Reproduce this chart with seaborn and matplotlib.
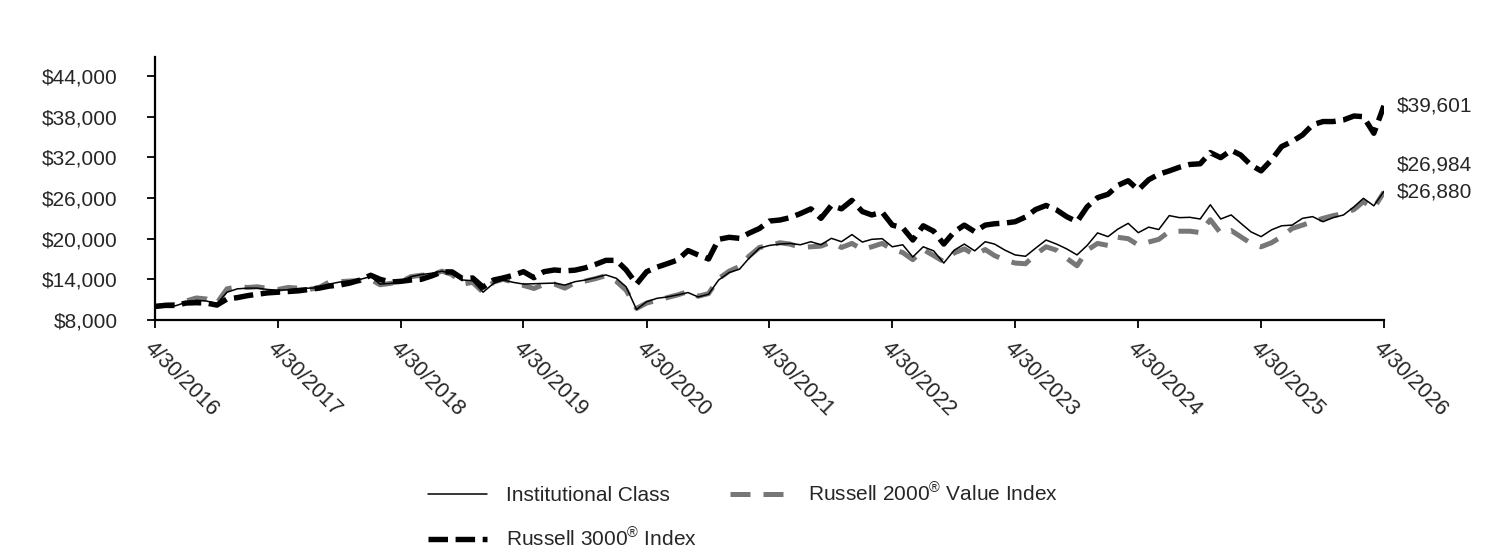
import numpy as np
import pandas as pd
import seaborn as sns
import matplotlib.pyplot as plt
from matplotlib.ticker import StrMethodFormatter
from matplotlib.lines import Line2D

sns.set_style('white')
plt.rcParams['font.family'] = ['Liberation Sans', 'DejaVu Sans']
plt.rcParams['mathtext.fontset'] = 'custom'
plt.rcParams['mathtext.rm'] = 'Liberation Sans'
plt.rcParams['mathtext.it'] = 'Liberation Sans:italic'
plt.rcParams['mathtext.bf'] = 'Liberation Sans:bold'

# month-end values of a $10,000 investment, 4/30/2016 - 4/30/2026
inst_class = [10000, 10150, 10100, 10600, 10900, 10800, 10400, 12100, 12600, 12700,
              12700, 12500, 12400, 12450, 12650, 12700, 12750, 13300, 13600, 13800,
              14000, 14400, 13300, 13400, 13650, 14400, 14700, 14900, 15200, 14800,
              13900, 13800, 12100, 13400, 13900, 13550, 13300, 13350, 13400, 13450,
              13150, 13650, 13900, 14250, 14650, 14150, 12900, 9550, 10700, 11200,
              11400, 11700, 12050, 11400, 11800, 13900, 15000, 15500, 17100, 18600,
              19000, 19200, 19300, 19100, 19550, 19100, 20050, 19550, 20600, 19500,
              19900, 20000, 18800, 19100, 17300, 18800, 18200, 16400, 18300, 19200,
              18200, 19550, 19200, 18300, 17600, 17400, 18600, 19800, 19200, 18500,
              17600, 19000, 20850, 20300, 21400, 22260, 20880, 21700, 21350, 23400,
              23100, 23150, 22900, 25000, 22900, 23500, 22300, 21000, 20300, 21300,
              21900, 22000, 23000, 23250, 22500, 23100, 23500, 24700, 25950, 24850,
              26984]

russell_3000 = [10000, 10150, 10150, 10500, 10550, 10500, 10200, 11100, 11300, 11600,
                11800, 12000, 12100, 12200, 12300, 12500, 12700, 13000, 13150, 13450,
                13900, 14600, 14000, 13600, 13700, 13900, 14000, 14500, 15100, 15100,
                14100, 14200, 12850, 13900, 14200, 14600, 15130, 14240, 15130, 15380,
                15250, 15350, 15700, 16200, 16800, 16800, 15400, 13300, 15130, 15800,
                16300, 16850, 18250, 17600, 17000, 19900, 20200, 20050, 20800, 21500,
                22600, 22750, 23100, 23700, 24400, 23000, 24900, 24400, 25650, 24000,
                23500, 23900, 22000, 21600, 19800, 21900, 21100, 19200, 21000, 22000,
                21030, 22000, 22200, 22300, 22500, 23200, 24300, 24900, 24250, 23250,
                22500, 24700, 26050, 26550, 27850, 28550, 27190, 28700, 29500, 30000,
                30550, 30950, 31050, 32700, 31950, 33050, 32350, 30850, 30000, 31620,
                33590, 34330, 35300, 36800, 37280, 37280, 37520, 38100, 38000, 35550,
                39601]

russell_2000_value = [10000, 10200, 10300, 10800, 11250, 11100, 10500, 12600, 12900, 12800,
                      12900, 12650, 12500, 12800, 12700, 12500, 12800, 13600, 13650, 13750,
                      13800, 14000, 13200, 13400, 13650, 14400, 14600, 14700, 15200, 14700,
                      13300, 13550, 12100, 13600, 14000, 13600, 13100, 12650, 13250, 13300,
                      12700, 13500, 13750, 14100, 14550, 13700, 12400, 9700, 10500, 10900,
                      11300, 11700, 12200, 11500, 11900, 14100, 15200, 15900, 17400, 18700,
                      19000, 19400, 19200, 18700, 18800, 18900, 19500, 18700, 19300, 18400,
                      18800, 19300, 18400, 17950, 16900, 18400, 17500, 16600, 17900, 18500,
                      17600, 18400, 17500, 16850, 16400, 16300, 17700, 18800, 18300, 17100,
                      16000, 18300, 19300, 19000, 20200, 20000, 19060, 19500, 19900, 21050,
                      21100, 21100, 20900, 22800, 20800, 21200, 20300, 19300, 18800, 19400,
                      20300, 21500, 22000, 22500, 23000, 23400, 23700, 24300, 25450, 24500,
                      26880]

dates = pd.date_range('2016-04-30', periods=len(inst_class), freq='ME')
tick_years = list(range(2016, 2027))
tick_labels = ['4/30/%d' % y for y in tick_years]
y_ticks = [8000, 14000, 20000, 26000, 32000, 38000, 44000]

df = pd.DataFrame({'date': dates,
                   'inst': inst_class,
                   'r3000': russell_3000,
                   'r2000v': russell_2000_value})

fig = plt.figure(figsize=(15.12, 5.52), dpi=100)
ax = fig.add_axes([0.1025, 0.4203, 0.8128, 0.4764])

gray = '#777777'
sns.lineplot(data=df, x='date', y='r2000v', ax=ax, color=gray, lw=3.6,
             linestyle=(0, (4.0, 2.6)), solid_capstyle='butt')
sns.lineplot(data=df, x='date', y='r3000', ax=ax, color='black', lw=3.9,
             linestyle=(0, (3.6, 1.4)))
sns.lineplot(data=df, x='date', y='inst', ax=ax, color='black', lw=1.1)

ax.set_xlim(dates[0], dates[-1])
ax.set_ylim(8000, 46800)
ax.set_yticks(y_ticks)
ax.yaxis.set_major_formatter(StrMethodFormatter('${x:,.0f}'))
ax.set_xticks([pd.Timestamp('%d-04-30' % y) for y in tick_years])
ax.set_xticklabels(tick_labels, rotation=-45, ha='left', va='top',
                   rotation_mode='anchor')
ax.set_xlabel('')
ax.set_ylabel('')

for side in ['top', 'right']:
    ax.spines[side].set_visible(False)
for side in ['left', 'bottom']:
    ax.spines[side].set_linewidth(1.6)
    ax.spines[side].set_color('black')
ax.tick_params(axis='y', direction='out', length=6, width=1.3, pad=21,
               labelsize=15, left=True, color='black')
ax.tick_params(axis='x', direction='out', length=6, width=1.3, pad=7,
               labelsize=15.5, bottom=True, color='black')

end = dates[-1]
ax.annotate('$39,601', xy=(end, russell_3000[-1]), xytext=(9, 0),
            textcoords='offset points', va='center', ha='left', fontsize=15,
            annotation_clip=False)
ax.annotate('$26,984', xy=(end, inst_class[-1]), xytext=(9, 19),
            textcoords='offset points', va='center', ha='left', fontsize=15,
            annotation_clip=False)
ax.annotate('$26,880', xy=(end, russell_2000_value[-1]), xytext=(9, 0),
            textcoords='offset points', va='center', ha='left', fontsize=15,
            annotation_clip=False)

handles = [Line2D([], [], color='black', lw=1.1),
           Line2D([], [], color='black', lw=3.9, linestyle=(0, (3.6, 1.4))),
           Line2D([], [], color=gray, lw=3.6, linestyle=(0, (4.0, 2.6)))]
labels = ['Institutional Class',
          'Russell 3000$^{\\mathrm{®}}$ Index',
          'Russell 2000$^{\\mathrm{®}}$ Value Index']
fig.legend(handles, labels, ncol=2, loc='upper left', frameon=False,
           bbox_to_anchor=(428 / 1512, 1 - 482 / 552), borderpad=0,
           borderaxespad=0, fontsize=15, handlelength=2.85, handletextpad=0.9,
           columnspacing=1.6, labelspacing=1.05)

fig.savefig('out.png', dpi=100)
